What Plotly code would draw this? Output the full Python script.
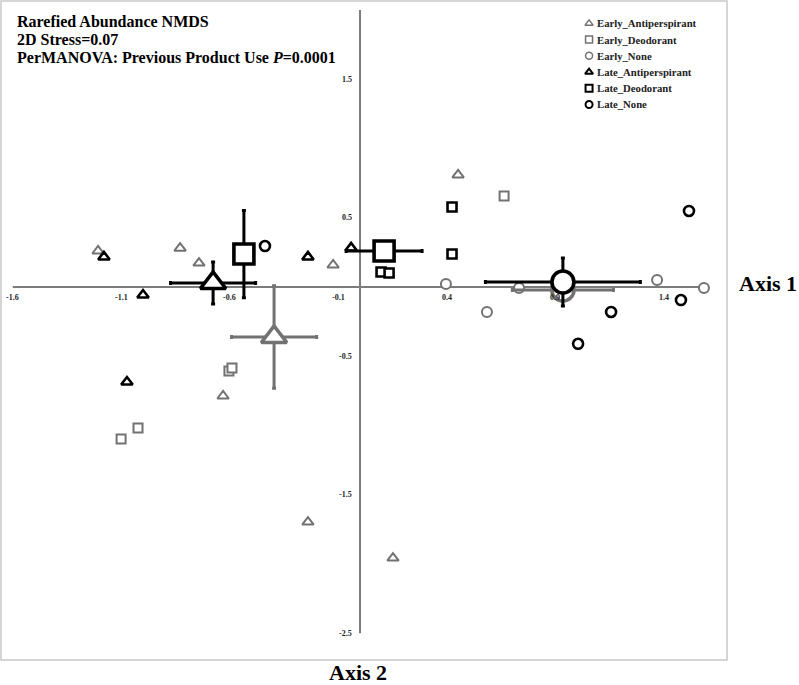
import plotly.graph_objects as go

GRAY = "#727272"
BLACK = "#000000"
SERIF = "Liberation Serif"

# ---------------- data ----------------
early_ap_x = [-1.207, -0.829, -0.742, -0.124, 0.452, -0.631, -0.240, 0.152]
early_ap_y = [0.260, 0.280, 0.173, 0.159, 0.809, -0.787, -1.697, -1.957]
late_ap_x = [-1.180, -1.000, -1.074, -0.240, -0.041]
late_ap_y = [0.217, -0.058, -0.686, 0.217, 0.282]
early_de_x = [-1.101, -1.023, -0.604, -0.590, 0.664]
early_de_y = [-1.097, -1.018, -0.606, -0.585, 0.657]
late_de_x = [0.424, 0.424, 0.097, 0.134]
late_de_y = [0.578, 0.238, 0.108, 0.101]
early_no_x = [0.396, 0.585, 0.733, 1.369, 1.585]
early_no_y = [0.022, -0.180, -0.007, 0.050, -0.007]
late_no_x = [-0.438, 1.157, 1.479, 1.005, 1.516]
late_no_y = [0.296, -0.180, -0.094, -0.410, 0.549]

# group centroids with error bars
mean_group = ["Early_None", "Early_Antiperspirant", "Late_Antiperspirant",
              "Early_Deodorant", "Late_Deodorant", "Late_None"]
mean_x = [0.935, -0.396, -0.677, -0.535, 0.111, 0.935]
mean_y = [-0.022, -0.361, 0.029, 0.238, 0.260, 0.036]
mean_ex = [0.233, 0.196, 0.196, 0.010, 0.175, 0.357]
mean_ey = [0.040, 0.370, 0.152, 0.315, 0.010, 0.173]

x_ticks = [-1.6, -1.1, -0.6, -0.1, 0.4, 0.9, 1.4]
y_ticks = [1.5, 0.5, -0.5, -1.5, -2.5]
x_line = [-1.6, 1.6]
y_line = [-2.5, 2.0]

legend_names = ["Early_Antiperspirant", "Early_Deodorant", "Early_None",
                "Late_Antiperspirant", "Late_Deodorant", "Late_None"]

title_lines = ["Rarefied Abundance NMDS", "2D Stress=0.07",
               "PerMANOVA: Previous Product Use <i>P</i>=0.0001"]

# ---------------- styles ----------------
sym = {"Antiperspirant": "triangle-up", "Deodorant": "square", "None": "circle"}
small_size = {"triangle-up": 10, "square": 9, "circle": 10}
big_size = {"triangle-up": 22, "square": 20, "circle": 22}
legend_size = {"triangle-up": 7, "square": 7, "circle": 7}

def style_of(name):
    phase, prod = name.split("_")
    color = GRAY if phase == "Early" else BLACK
    return color, sym[prod]

mean_color = {"Early_None": GRAY, "Early_Antiperspirant": GRAY,
              "Late_Antiperspirant": BLACK, "Early_Deodorant": BLACK,
              "Late_Deodorant": BLACK, "Late_None": BLACK}

fig = go.Figure()

groups = [
    ("Early_Antiperspirant", early_ap_x, early_ap_y),
    ("Early_Deodorant", early_de_x, early_de_y),
    ("Early_None", early_no_x, early_no_y),
    ("Late_Antiperspirant", late_ap_x, late_ap_y),
    ("Late_Deodorant", late_de_x, late_de_y),
    ("Late_None", late_no_x, late_no_y),
]

for name, xs, ys in groups:
    color, s = style_of(name)
    lw = 2.0 if color == GRAY else 2.6
    fig.add_trace(go.Scatter(
        x=xs, y=ys, mode="markers", name=name, showlegend=False,
        marker=dict(symbol=s, size=small_size[s], color="white",
                    line=dict(color=color, width=lw))))

for g, mx, my, ex, ey in zip(mean_group, mean_x, mean_y, mean_ex, mean_ey):
    _, s = style_of(g)
    c = mean_color[g]
    fig.add_trace(go.Scatter(
        x=[mx], y=[my], mode="markers", showlegend=False,
        error_x=dict(type="data", array=[ex], color=c, thickness=3, width=2),
        error_y=dict(type="data", array=[ey], color=c, thickness=3, width=2),
        marker=dict(symbol=s, size=big_size[s], color="white",
                    line=dict(color=c, width=3.6))))

# legend symbols on an overlay axis (0..1)
leg_x = 0.810
leg_top = 0.966
leg_dy = 0.0246
leg_y = [leg_top - i * leg_dy for i in range(len(legend_names))]
for i, name in enumerate(legend_names):
    color, s = style_of(name)
    fig.add_trace(go.Scatter(
        x=[leg_x], y=[leg_y[i]], xaxis="x2", yaxis="y2", mode="markers",
        showlegend=False,
        marker=dict(symbol=s, size=legend_size[s], color="white",
                    line=dict(color=color, width=1.5 if color == GRAY else 2))))

annotations = []
for i, name in enumerate(legend_names):
    annotations.append(dict(x=0.818, y=leg_y[i], xref="paper", yref="paper",
                            xanchor="left", yanchor="middle", showarrow=False,
                            text="<b>%s</b>" % name,
                            font=dict(family=SERIF, size=10.7, color="#222")))

title_y = [0.9686, 0.9419, 0.9146]
for t, ty in zip(title_lines, title_y):
    annotations.append(dict(x=0.0193, y=ty, xref="paper", yref="paper",
                            xanchor="left", yanchor="middle", showarrow=False,
                            text="<b>%s</b>" % t,
                            font=dict(family=SERIF, size=16, color="#000")))

for xt in x_ticks:
    annotations.append(dict(x=xt, y=0, xref="x", yref="y", showarrow=False,
                            yshift=-10, xanchor="center", yanchor="middle",
                            text="<b>%g</b>" % xt,
                            font=dict(family=SERIF, size=8, color="#222")))
for yt in y_ticks:
    annotations.append(dict(x=0, y=yt, xref="x", yref="y", showarrow=False,
                            xshift=-6, xanchor="right", yanchor="middle",
                            text="<b>%g</b>" % yt,
                            font=dict(family=SERIF, size=8, color="#222")))

annotations.append(dict(x=1.0135, y=0.572, xref="paper", yref="paper",
                        xanchor="left", yanchor="middle", showarrow=False,
                        text="<b>Axis 1</b>",
                        font=dict(family=SERIF, size=22, color="#000")))
annotations.append(dict(x=0.4917, y=-0.0185, xref="paper", yref="paper",
                        xanchor="center", yanchor="middle", showarrow=False,
                        text="<b>Axis 2</b>",
                        font=dict(family=SERIF, size=22, color="#000")))

shapes = [
    dict(type="line", xref="x", yref="y", x0=x_line[0], x1=x_line[1], y0=0, y1=0,
         line=dict(color="#7c7c7c", width=2), layer="below"),
    dict(type="line", xref="x", yref="y", x0=0, x1=0, y0=y_line[0], y1=y_line[1],
         line=dict(color="#7c7c7c", width=2), layer="below"),
    dict(type="rect", xref="paper", yref="paper", x0=0, x1=1, y0=0, y1=1,
         line=dict(color="#c8c8c8", width=1.5)),
]

fig.update_layout(
    width=799, height=685,
    margin=dict(l=1, r=72, t=1, b=25, pad=0),
    paper_bgcolor="white", plot_bgcolor="white",
    xaxis=dict(range=[-1.6544, 1.6912], showgrid=False, zeroline=False,
               showticklabels=False, ticks="", showline=False, fixedrange=True),
    yaxis=dict(range=[-2.693, 2.065], showgrid=False, zeroline=False,
               showticklabels=False, ticks="", showline=False, fixedrange=True),
    xaxis2=dict(overlaying="x", range=[0, 1], visible=False, fixedrange=True),
    yaxis2=dict(overlaying="y", range=[0, 1], visible=False, fixedrange=True),
    annotations=annotations, shapes=shapes, showlegend=False,
)

fig.write_html("out.html",
               config={"displayModeBar": False},
               post_script="document.body.style.margin='0px';"
                           "document.body.style.overflow='hidden';")
